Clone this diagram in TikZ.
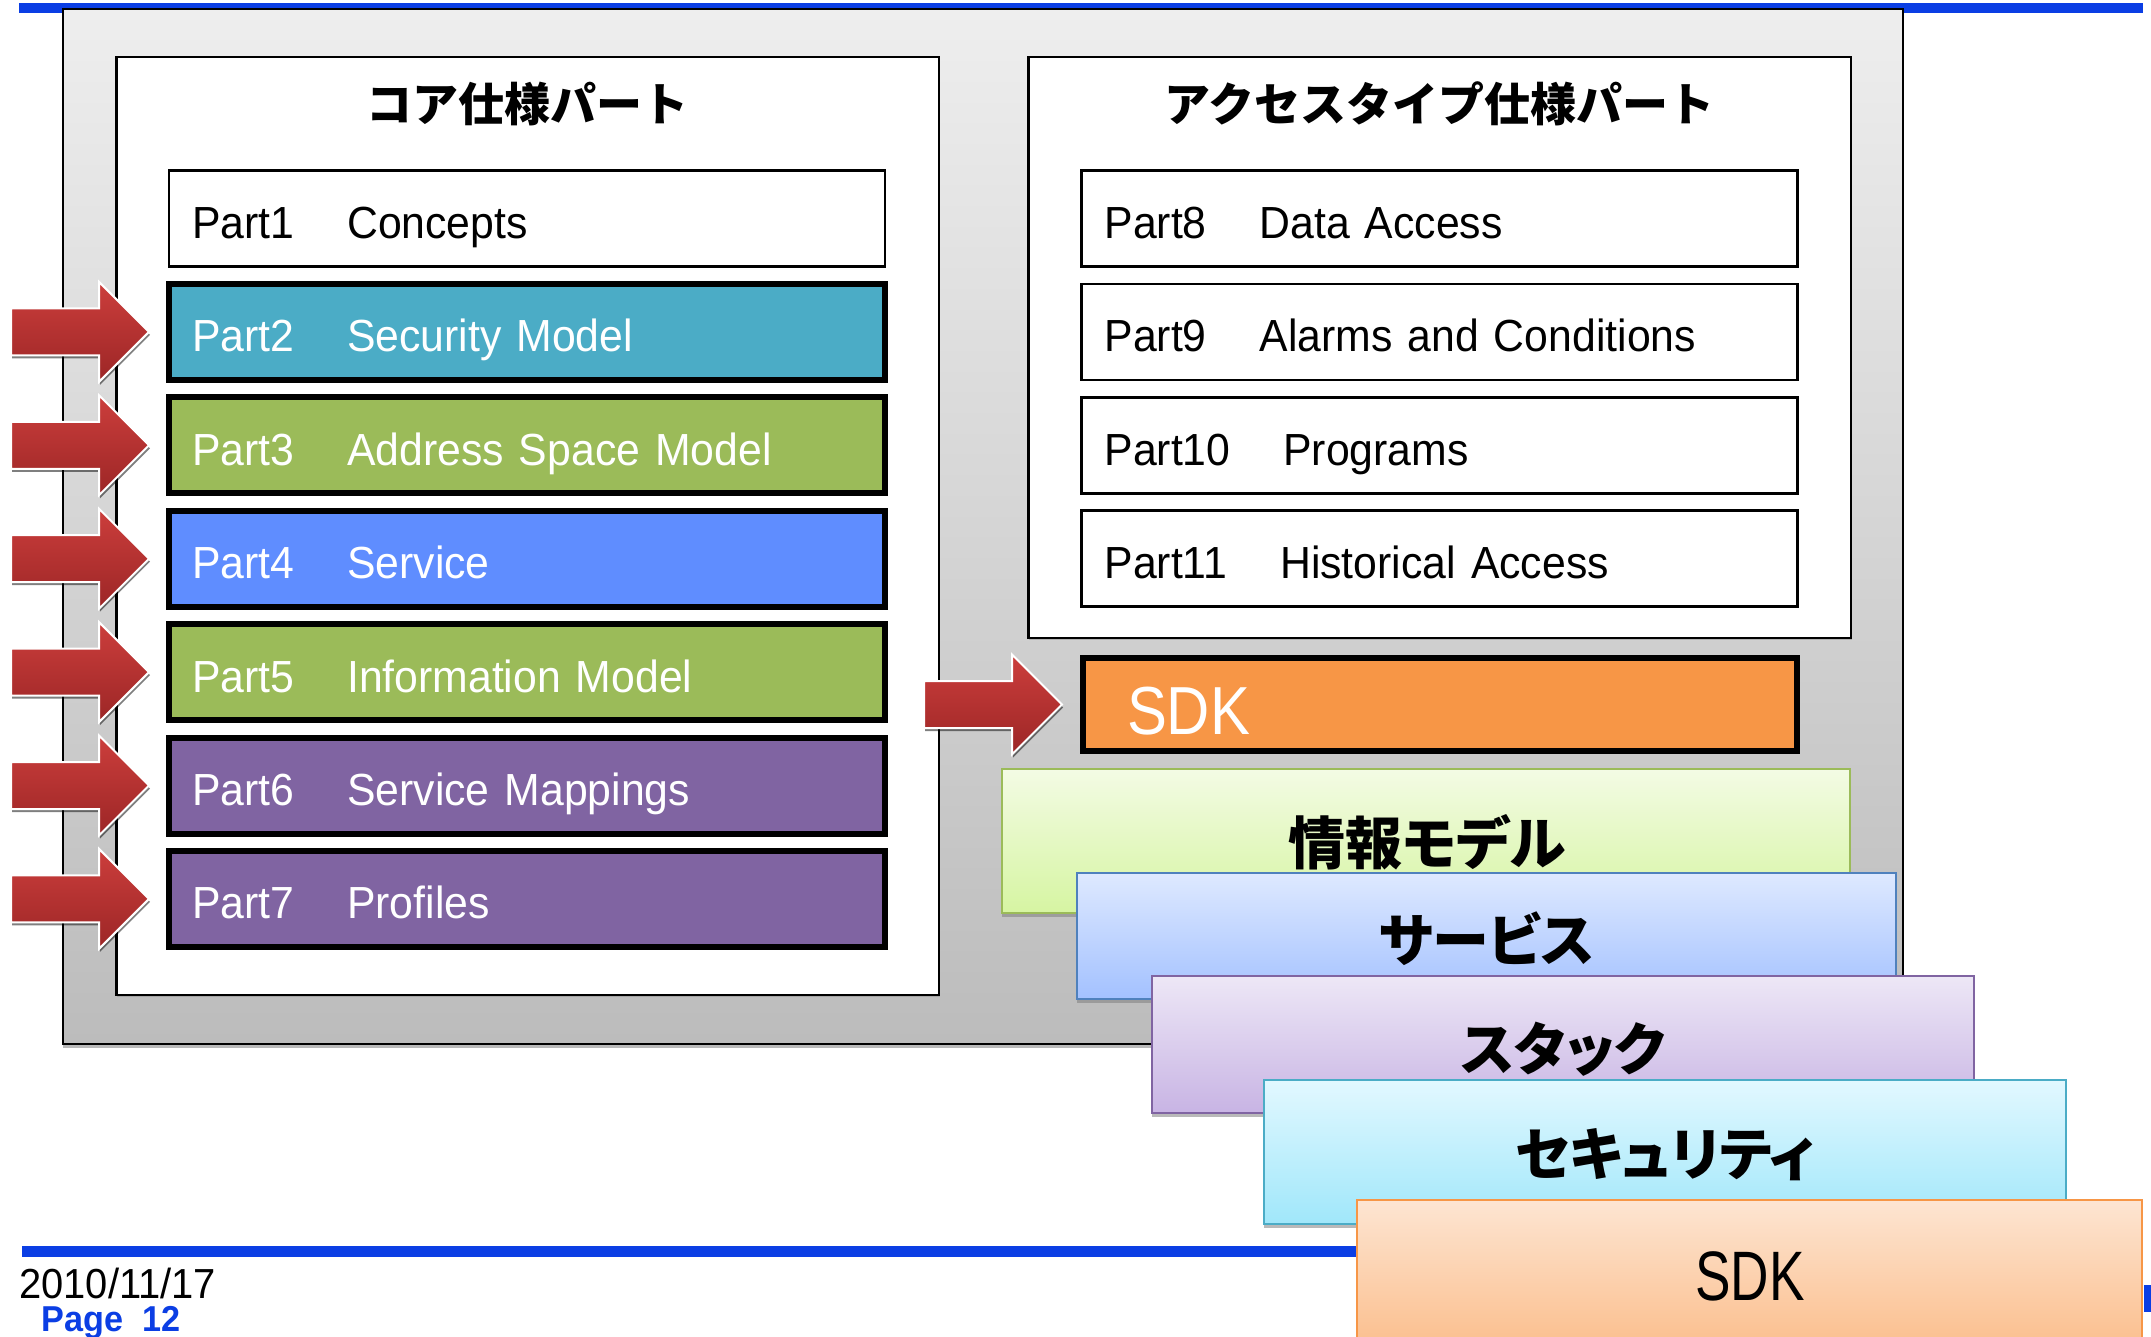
\documentclass[tikz,border=0pt]{standalone}
\usepackage{fontspec}
\setmainfont{Liberation Sans}[FakeStretch=0.95]
\newfontfamily\jp{Noto Sans CJK JP}
\newfontfamily\jpl{Noto Sans CJK JP}[RawFeature=+palt]
\newfontfamily\condf{Liberation Sans}[FakeStretch=0.76]
\newfontfamily\sdkf{Liberation Sans}[FakeStretch=0.88]
\usetikzlibrary{shadows}
\definecolor{barblue}{RGB}{11,62,228}
\definecolor{outerTop}{RGB}{238,238,238}
\definecolor{outerBot}{RGB}{188,188,188}
\definecolor{cTwo}{RGB}{75,172,198}
\definecolor{cThree}{RGB}{155,187,89}
\definecolor{cFour}{RGB}{95,141,255}
\definecolor{cSix}{RGB}{128,100,162}
\definecolor{sdkor}{RGB}{247,150,70}
\definecolor{arTop}{RGB}{204,62,60}
\definecolor{arBot}{RGB}{156,38,38}
\definecolor{gTop}{RGB}{243,251,228}
\definecolor{gBot}{RGB}{214,245,162}
\definecolor{gLine}{RGB}{155,187,89}
\definecolor{bTop}{RGB}{222,233,255}
\definecolor{bBot}{RGB}{163,193,255}
\definecolor{bLine}{RGB}{79,129,189}
\definecolor{pTop}{RGB}{237,231,246}
\definecolor{pBot}{RGB}{200,180,228}
\definecolor{pLine}{RGB}{128,100,162}
\definecolor{yTop}{RGB}{226,248,255}
\definecolor{yBot}{RGB}{160,231,250}
\definecolor{yLine}{RGB}{75,172,198}
\definecolor{oTop}{RGB}{253,229,210}
\definecolor{oBot}{RGB}{251,191,142}
\definecolor{oLine}{RGB}{247,150,70}
\newcommand\gapsp{\hspace{26.5pt}}
\begin{document}
\begin{tikzpicture}[x=0.5pt,y=-0.5pt,
  softshadow/.style={drop shadow={shadow xshift=0pt,shadow yshift=-2pt,opacity=.55,fill=gray}},
  outerbox/.style={draw=black,line width=1pt,top color=outerTop,bottom color=outerBot,
    minimum width=920pt,minimum height=517.5pt,inner sep=0pt,softshadow},
  container/.style={draw=black,line width=1.25pt,fill=white,inner sep=0pt,
    minimum width=411.25pt,drop shadow={shadow xshift=0.5pt,shadow yshift=-1pt,opacity=.4,fill=gray}},
  heading/.style={font=\jp\bfseries\fontsize{23pt}{26pt}\selectfont,anchor=base,inner sep=0pt},
  partbox/.style={draw=black,line width=3pt,minimum width=358pt,minimum height=48pt,
    inner xsep=11.5pt,inner ysep=0pt,text width=335pt,align=left,
    text height=20pt,text depth=0pt,font=\fontsize{22.5pt}{24pt}\selectfont,text=white},
  plainpart/.style={partbox,line width=1.25pt,fill=white,text=black},
  stackbox/.style={line width=1pt,inner sep=0pt,softshadow},
  jplabel/.style={font=\jpl\bfseries\fontsize{28.5pt}{30pt}\selectfont,anchor=base,inner sep=0pt},
  arrowfill/.style={top color=arTop,bottom color=arBot,draw=white,line width=1pt,
    drop shadow={shadow xshift=0.5pt,shadow yshift=-1.5pt,opacity=.5,fill=black}},
  pics/redarrow/.style={code={
    \path[arrowfill] (-138,-23.5) -- (-50,-23.5) -- (-50,-50) -- (0,0) -- (-50,50)
      -- (-50,23.5) -- (-138,23.5) -- cycle;}}
]
\path[use as bounding box,clip] (0,0) rectangle (2151,1337);
\fill[white] (0,0) rectangle (2151,1337);
% blue bars
\fill[barblue] (19,3) rectangle (2143,13);
\fill[barblue] (22,1246) rectangle (2143,1257);
\fill[barblue] (2144,1285) rectangle (2151,1312);
% footer
\node[anchor=base west,inner sep=0pt,font=\fontsize{21pt}{24pt}\selectfont] (date) at (19,1298) {2010/11/17};
\node[anchor=base west,inner sep=0pt,text=barblue,font=\bfseries\fontsize{18pt}{20pt}\selectfont] (page) at (41,1331) {Page\ \ 12};
% outer gray box
\node[outerbox] (outer) at (983,526.5) {};
% containers
\node[container,minimum height=468.75pt] (core) at (527.5,526) {};
\node[container,minimum height=290.25pt] (access) at (1439.5,347.5) {};
\node[heading] (coretitle) at (527.5,121.5) {コア仕様パート};
\node[heading] (accesstitle) at (1439.5,121.5) {アクセスタイプ仕様パート};
% core parts
\node[plainpart] (p1) at (527,218.5) {Part1\gapsp Concepts};
\node[partbox,fill=cTwo] (p2) at (527,331.9) {Part2\gapsp Security Model};
\node[partbox,fill=cThree] (p3) at (527,445.3) {Part3\gapsp Address Space Model};
\node[partbox,fill=cFour] (p4) at (527,558.7) {Part4\gapsp Service};
\node[partbox,fill=cThree] (p5) at (527,672.1) {Part5\gapsp Information Model};
\node[partbox,fill=cSix] (p6) at (527,785.5) {Part6\gapsp Service Mappings};
\node[partbox,fill=cSix] (p7) at (527,898.9) {Part7\gapsp Profiles};
% access parts
\node[plainpart] (p8) at (1439.5,218.5) {Part8\gapsp Data Access};
\node[plainpart] (p9) at (1439.5,331.9) {Part9\gapsp Alarms and Conditions};
\node[plainpart] (p10) at (1439.5,445.3) {Part10\gapsp Programs};
\node[plainpart] (p11) at (1439.5,558.7) {Part11\gapsp Historical Access};
% SDK box
\node[partbox,fill=sdkor,minimum width=357pt,minimum height=46.5pt,inner xsep=22pt,
  text width=313pt,text height=29.5pt,font=\sdkf\fontsize{34pt}{36pt}\selectfont] (sdk) at (1440,704.5) {SDK};
% arrows
\foreach \n in {p2,p3,p4,p5,p6,p7}{
  \pic at ([xshift=-8.5pt]\n.west) {redarrow};
}
\pic at ([xshift=-9pt]sdk.west) {redarrow};
% stacked layers
\node[stackbox,draw=gLine,top color=gTop,bottom color=gBot,minimum width=424pt,minimum height=72pt] (info) at (1426,841) {};
\node[jplabel] (infot) at (1427,864) {情報モデル};
\node[stackbox,draw=bLine,top color=bTop,bottom color=bBot,minimum width=409.5pt,minimum height=63pt] (serv) at (1486.5,936) {};
\node[jplabel] (servt) at (1486.5,961) {サービス};
\node[stackbox,draw=pLine,top color=pTop,bottom color=pBot,minimum width=411pt,minimum height=68.5pt] (stack) at (1563,1044.5) {};
\node[jplabel] (stackt) at (1563,1070) {スタック};
\node[stackbox,draw=yLine,top color=yTop,bottom color=yBot,minimum width=401pt,minimum height=72pt] (sec) at (1665,1152) {};
\node[jplabel] (sect) at (1665,1175) {セキュリティ};
\node[stackbox,draw=oLine,top color=oTop,bottom color=oBot,minimum width=392.5pt,minimum height=73pt] (sdkl) at (1749.5,1273) {};
\node[anchor=base,inner sep=0pt,font=\condf\fontsize{35pt}{36pt}\selectfont] (sdklt) at (1750,1300) {SDK};
\end{tikzpicture}
\end{document}
